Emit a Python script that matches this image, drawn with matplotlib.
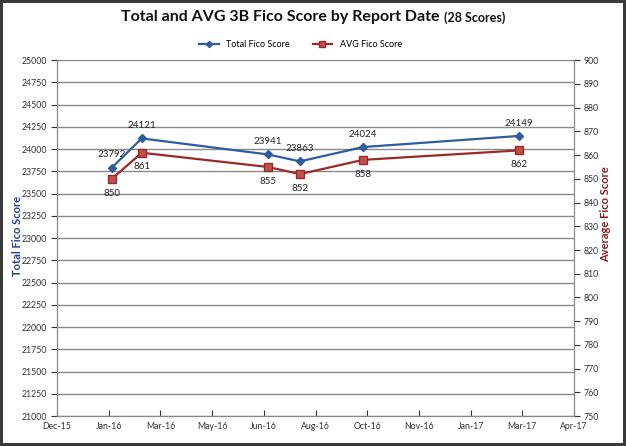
import datetime as dt
import matplotlib
matplotlib.use("Agg")
import matplotlib.pyplot as plt
import matplotlib.dates as mdates

plt.rcParams['font.family'] = ['Lato', 'DejaVu Sans']

# data
report_dates = [dt.date(2016, 2, 1), dt.date(2016, 3, 1), dt.date(2016, 7, 1),
                dt.date(2016, 8, 1), dt.date(2016, 10, 1), dt.date(2017, 3, 1)]
total_score = [23792, 24121, 23941, 23863, 24024, 24149]
avg_score = [850, 861, 855, 852, 858, 862]

x_start = dt.date(2015, 12, 10)
x_step_days = 50
n_xticks = 11

blue = '#2E5C9C'
red = '#9A2A2A'

fig = plt.figure(figsize=(6.26, 4.46), dpi=100, edgecolor='#3a3a3a', linewidth=3)
ax = fig.add_axes([0.091, 0.067, 0.826, 0.798])
ax2 = ax.twinx()

ax.plot(report_dates, total_score, color=blue, lw=1.6, marker='D', ms=4.5,
        mfc=blue, mec=blue, label='Total Fico Score', zorder=4)
ax2.plot(report_dates, avg_score, color=red, lw=1.6, marker='s', ms=6,
         mfc='#C0504D', mec=red, label='AVG Fico Score', zorder=4)

for d, v in zip(report_dates, total_score):
    ax.annotate(str(v), (d, v), xytext=(0, 6), textcoords='offset points',
                ha='center', va='bottom', fontsize=7, color='#222222')
for d, v in zip(report_dates, avg_score):
    ax2.annotate(str(v), (d, v), xytext=(0, -7), textcoords='offset points',
                 ha='center', va='top', fontsize=7, color='#222222')

xticks = [x_start + dt.timedelta(days=x_step_days * i) for i in range(n_xticks)]
ax.set_xlim(xticks[0], xticks[-1])
ax.set_xticks(xticks)
ax.xaxis.set_major_formatter(mdates.DateFormatter('%b-%y'))

ax.set_ylim(21000, 25000)
ax.set_yticks(range(21000, 25001, 250))
ax2.set_ylim(750, 900)
ax2.set_yticks(range(750, 901, 10))

ax.grid(axis='y', color='#8a8a8a', lw=1)
ax.set_axisbelow(True)

for a in (ax, ax2):
    a.tick_params(labelsize=6.3, colors='#333333', length=4, width=0.8, pad=3)
    for s in a.spines.values():
        s.set_color('#888888')
ax.spines['top'].set_visible(False)
ax2.spines['top'].set_visible(False)
ax.tick_params(axis='x', direction='in', pad=4)

fig.text(18 / 626, 0.47, 'Total Fico Score', color='#1F3F8F', fontweight='bold',
         fontsize=8, rotation=90, ha='center', va='center')
fig.text(606 / 626, 0.52, 'Average Fico Score', color='#8B1A1A', fontweight='bold',
         fontsize=8, rotation=90, ha='center', va='center')

# title in two sizes, centred together
title_y = 1 - 17 / 446
t1 = fig.text(0, title_y, 'Total and AVG 3B Fico Score by Report Date ', ha='left',
              va='center', fontsize=11.5, fontweight='bold', color='#111111')
t2 = fig.text(0, title_y - 0.002, '(28 Scores)', ha='left', va='center', fontsize=9,
              fontweight='bold', color='#111111')
r = fig.canvas.get_renderer()
w1 = t1.get_window_extent(r).width / fig.bbox.width
w2 = t2.get_window_extent(r).width / fig.bbox.width
left = 0.5 - (w1 + w2) / 2
t1.set_x(left)
t2.set_x(left + w1)

h1, l1 = ax.get_legend_handles_labels()
h2, l2 = ax2.get_legend_handles_labels()
fig.legend(h1 + h2, l1 + l2, loc='center', bbox_to_anchor=(0.48, 0.9), ncol=2,
           frameon=False, fontsize=6.5, handlelength=2.2, columnspacing=2.5,
           markerscale=0.7)

fig.savefig('out.png', dpi=100)
